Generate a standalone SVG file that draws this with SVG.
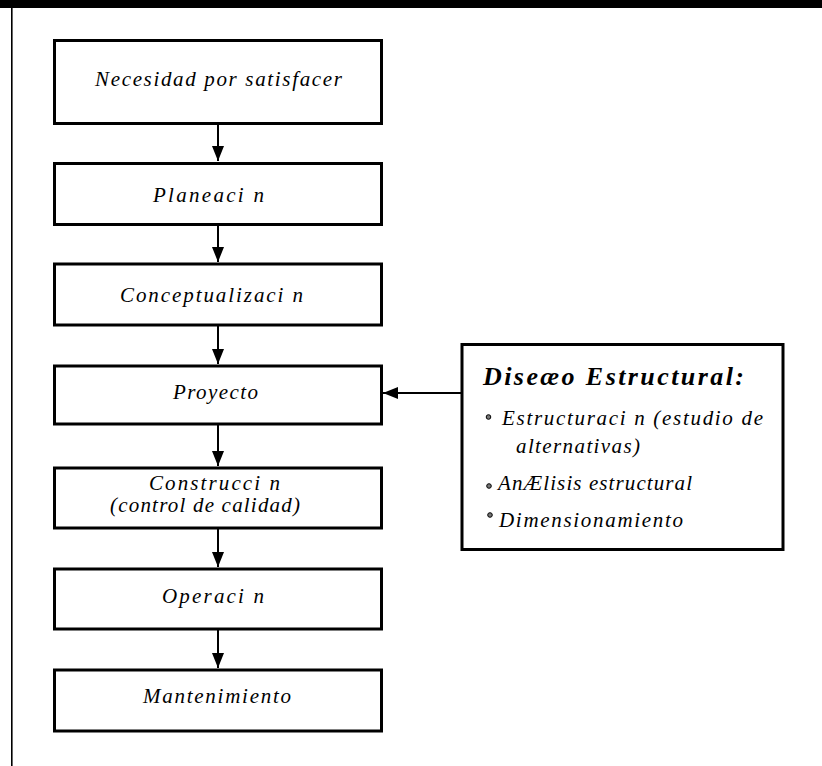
<svg xmlns="http://www.w3.org/2000/svg" width="822" height="766" viewBox="0 0 822 766">
<style>
.box{fill:#fff;stroke:#000;stroke-width:3}
.t{font-family:"Liberation Serif","Times New Roman",serif;font-style:italic;font-size:21px;fill:#000}
.h{font-family:"Liberation Serif","Times New Roman",serif;font-style:italic;font-weight:bold;font-size:26px;fill:#000}
.c{stroke:#000;stroke-width:2;fill:none}
.b{fill:#777;stroke:#000;stroke-width:1}
</style>
<defs>
<marker id="ah" markerUnits="userSpaceOnUse" markerWidth="15" markerHeight="12" refX="15" refY="6" orient="auto">
<path d="M0,0 L15,6 L0,12 z" fill="#000"/>
</marker>
</defs>
<rect x="0" y="0" width="822" height="8" fill="#000"/>
<rect x="11" y="0" width="1.6" height="766" fill="#000"/>
<g id="connectors">
<line class="c" x1="218" y1="124" x2="218" y2="161" marker-end="url(#ah)"/>
<line class="c" x1="218" y1="225" x2="218" y2="262" marker-end="url(#ah)"/>
<line class="c" x1="218" y1="326" x2="218" y2="364" marker-end="url(#ah)"/>
<line class="c" x1="218" y1="425" x2="218" y2="466" marker-end="url(#ah)"/>
<line class="c" x1="218" y1="529" x2="218" y2="567" marker-end="url(#ah)"/>
<line class="c" x1="218" y1="630" x2="218" y2="668" marker-end="url(#ah)"/>
<line class="c" x1="461" y1="393" x2="383" y2="393" marker-end="url(#ah)"/>
</g>
<g id="n1"><rect class="box" x="54.5" y="40.5" width="327" height="83"/>
<text class="t" x="95" y="86" textLength="247" lengthAdjust="spacing">Necesidad por satisfacer</text></g>
<g id="n2"><rect class="box" x="54.5" y="163.5" width="327" height="61"/>
<text class="t" x="153" y="202" textLength="111" lengthAdjust="spacing">Planeaci n</text></g>
<g id="n3"><rect class="box" x="54.5" y="264" width="327" height="61"/>
<text class="t" x="120" y="302" textLength="183" lengthAdjust="spacing">Conceptualizaci n</text></g>
<g id="n4"><rect class="box" x="54.5" y="366" width="327" height="58"/>
<text class="t" x="173" y="399" textLength="85" lengthAdjust="spacing">Proyecto</text></g>
<g id="n5"><rect class="box" x="54.5" y="468" width="327" height="60"/>
<text class="t" x="149" y="490" textLength="131" lengthAdjust="spacing">Construcci n</text>
<text class="t" x="110" y="512" textLength="190" lengthAdjust="spacing">(control de calidad)</text></g>
<g id="n6"><rect class="box" x="54.5" y="569" width="327" height="60"/>
<text class="t" x="162" y="603" textLength="102" lengthAdjust="spacing">Operaci n</text></g>
<g id="n7"><rect class="box" x="54.5" y="670" width="327" height="61"/>
<text class="t" x="143" y="703" textLength="148" lengthAdjust="spacing">Mantenimiento</text></g>
<g id="n8"><rect class="box" x="462" y="344.5" width="321" height="205"/>
<text class="h" x="483" y="385" textLength="261" lengthAdjust="spacing">Diseæo Estructural:</text>
<circle class="b" cx="488.5" cy="417" r="2.3"/>
<text class="t" x="502" y="425" textLength="261" lengthAdjust="spacing">Estructuraci n (estudio de</text>
<text class="t" x="516" y="453" textLength="124" lengthAdjust="spacing">alternativas)</text>
<circle class="b" cx="489" cy="486" r="2.3"/>
<text class="t" x="498" y="490" textLength="194" lengthAdjust="spacing">AnÆlisis estructural</text>
<circle class="b" cx="490" cy="515" r="2.3"/>
<text class="t" x="499" y="527" textLength="184" lengthAdjust="spacing">Dimensionamiento</text></g>
</svg>
